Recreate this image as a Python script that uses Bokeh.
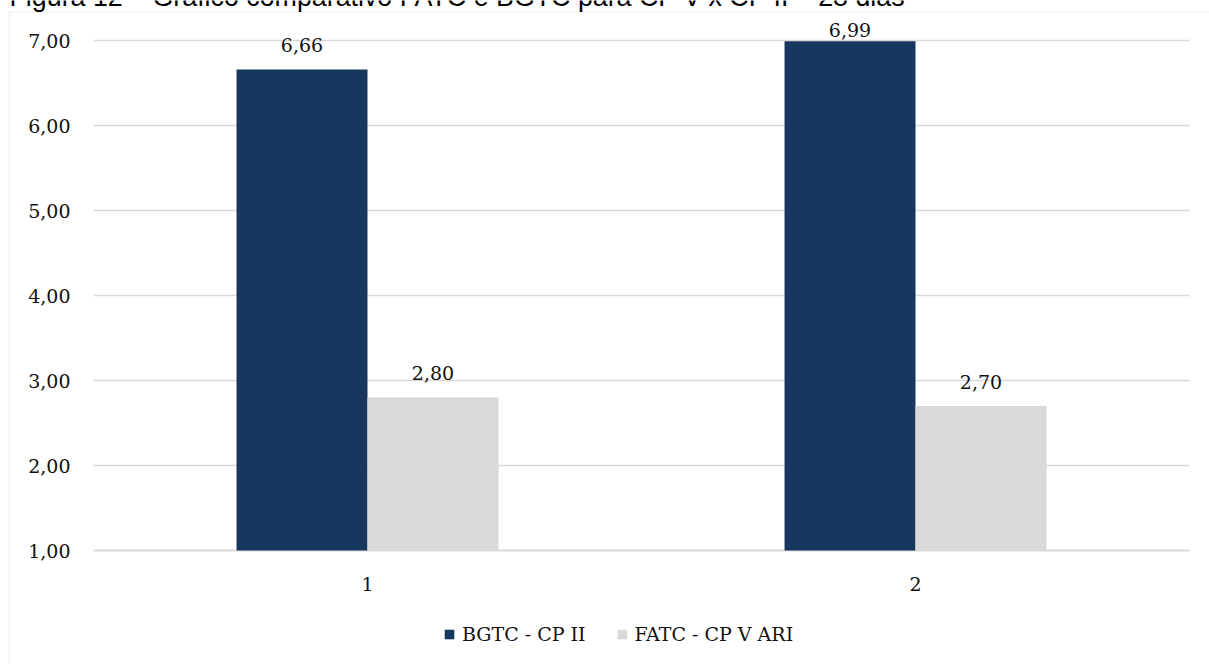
from bokeh.plotting import figure
from bokeh.models import (Range1d, Legend, LegendItem, Label, BoxAnnotation,
                          ColumnDataSource)
from bokeh.core.properties import value
from bokeh.embed import file_html
from bokeh.resources import INLINE

# --- data -------------------------------------------------------------
categories = ["1", "2"]
bgtc_cp2 = [6.66, 6.99]     # BGTC - CP II
fatc_cp5 = [2.80, 2.70]     # FATC - CP V ARI
series_names = ["BGTC - CP II", "FATC - CP V ARI"]
y_ticks = [1, 2, 3, 4, 5, 6, 7]
y_tick_labels = ["1,00", "2,00", "3,00", "4,00", "5,00", "6,00", "7,00"]
title_text = "Figura 12 – Gráfico comparativo FATC e BGTC para CP V x CP II – 28 dias"

# --- style / layout ---------------------------------------------------
DARK = "#17375e"
LIGHT = "#d9d9d9"
GRID = "#d9d9d9"
SERIF = "DejaVu Serif"
FS = "19px"
TEXT_COLOR = "#111111"

W, H = 1209, 664
AREA_L, AREA_R = 93, 1189        # plot area, px from the left
AREA_T, AREA_B = 40, 550         # plot area, px from the top
Y0, Y1 = y_ticks[0], y_ticks[-1]
ncat = len(categories)

# data ranges chosen so the plot area sits where it should in the canvas
x_ppu = (AREA_R - AREA_L) / ncat
y_ppu = (AREA_B - AREA_T) / (Y1 - Y0)
x_lo, x_hi = 0.5, ncat + 0.5
x_range = Range1d(x_lo - AREA_L / x_ppu, x_hi + (W - AREA_R) / x_ppu)
y_range = Range1d(Y0 - (H - AREA_B) / y_ppu, Y1 + AREA_T / y_ppu)

p = figure(width=W, height=H, output_backend="svg", toolbar_location=None,
           x_range=x_range, y_range=y_range,
           x_axis_location=None, y_axis_location=None,
           min_border=0)
p.min_border_left = p.min_border_right = p.min_border_top = p.min_border_bottom = 0
p.outline_line_color = None
p.grid.grid_line_color = None
p.background_fill_color = "white"
p.border_fill_color = "white"

xpos = [float(c) for c in categories]

# horizontal gridlines and the category axis line
p.segment(x0=x_lo, x1=x_hi, y0=y_ticks[1:], y1=y_ticks[1:],
          line_color=GRID, line_width=1.5)
p.segment(x0=x_lo, x1=x_hi, y0=Y0, y1=Y0, line_color=GRID, line_width=2)

# y tick labels
p.text(x=x_lo, y=y_ticks, text=y_tick_labels, x_offset=-23,
       text_font=value(SERIF), text_font_size=FS, text_color=TEXT_COLOR,
       text_align="right", text_baseline="middle")
# category labels
p.text(x=xpos, y=Y0, text=categories, y_offset=33,
       text_font=value(SERIF), text_font_size=FS, text_color=TEXT_COLOR,
       text_align="center", text_baseline="middle")

# bars
bar_w = 0.239
off = 0.1195
src = ColumnDataSource(dict(
    xa=[x - off for x in xpos], xb=[x + off for x in xpos],
    a=bgtc_cp2, b=fatc_cp5,
    la=[f"{v:.2f}".replace(".", ",") for v in bgtc_cp2],
    lb=[f"{v:.2f}".replace(".", ",") for v in fatc_cp5]))
r1 = p.vbar(x="xa", top="a", bottom=Y0, width=bar_w, source=src,
            fill_color=DARK, line_color=None)
r2 = p.vbar(x="xb", top="b", bottom=Y0, width=bar_w, source=src,
            fill_color=LIGHT, line_color=None)


# value labels above bars; a label never rises above the chart's top area
def label_offsets(vals, gap=24.3, top_limit=-10.8):
    out = []
    for v in vals:
        bar_top = (Y1 - v) * y_ppu
        mid = max(bar_top - gap, top_limit)
        out.append(mid - bar_top)
    return out


src.data["oa"] = label_offsets(bgtc_cp2)
src.data["ob"] = label_offsets(fatc_cp5)
for xcol, ycol, lab, o in (("xa", "a", "la", "oa"), ("xb", "b", "lb", "ob")):
    p.text(x=xcol, y=ycol, text=lab, y_offset=o, source=src,
           text_font=value(SERIF), text_font_size=FS, text_color=TEXT_COLOR,
           text_align="center", text_baseline="middle")

# legend under the category labels
legend = Legend(items=[LegendItem(label=series_names[0], renderers=[r1]),
                       LegendItem(label=series_names[1], renderers=[r2])],
                orientation="horizontal", location=(443, 19),
                glyph_width=12, glyph_height=12, label_standoff=7, spacing=30,
                padding=0, margin=0, border_line_color=None,
                background_fill_alpha=0,
                label_text_font=SERIF, label_text_font_size=FS,
                label_text_color=TEXT_COLOR)
p.add_layout(legend)

# chart border
p.add_layout(BoxAnnotation(left=8.5, right=W + 50, top=H - 11.5, bottom=-50,
                           left_units="screen", right_units="screen",
                           top_units="screen", bottom_units="screen",
                           fill_alpha=0, line_color=GRID, line_width=1.5))

# figure caption at the top edge
p.add_layout(Label(x=9, y=H + 4, x_units="screen", y_units="screen",
                   text=title_text, text_font="Liberation Sans",
                   text_font_size="26.8px", text_color="#000000",
                   text_baseline="middle"))

open("out.html", "w").write(file_html(p, INLINE))
